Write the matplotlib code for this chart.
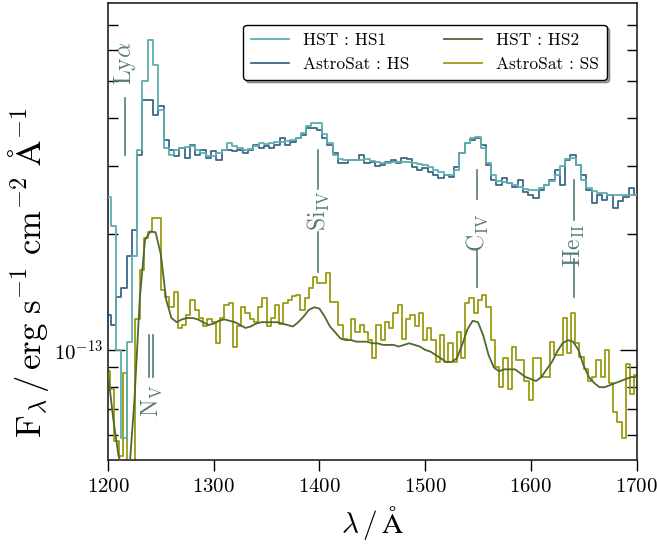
import numpy as np
import matplotlib
matplotlib.use("Agg")
import matplotlib.pyplot as plt
from matplotlib.ticker import LogLocator, NullFormatter, FixedLocator

plt.rcParams.update({
    "font.family": "serif",
    "font.serif": ["cmr10"],
    "mathtext.fontset": "cm",
    "axes.formatter.use_mathtext": True,
    "axes.unicode_minus": False,
})

# ---- spectra (flux in units of 1e-13 erg s^-1 cm^-2 A^-1) ----
wl_hst = np.arange(1200, 1701, 5)
hst_hs1 = [2.50, 2.10, 1.00, 0.59, 1.05, 1.75, 3.30, 5.00, 6.39, 5.50,
           4.20, 3.35, 3.21, 3.31, 3.35, 3.37, 3.39, 3.31, 3.25, 3.19,
           3.18, 3.25, 3.31, 3.45, 3.39, 3.35, 3.31, 3.33, 3.39, 3.45,
           3.43, 3.45, 3.47, 3.47, 3.49, 3.51, 3.56, 3.66, 3.82, 3.88,
           3.88, 3.64, 3.45, 3.21, 3.13, 3.12, 3.12, 3.12, 3.12, 3.13,
           3.10, 3.08, 3.06, 3.06, 3.08, 3.08, 3.08, 3.08, 3.06, 3.04,
           3.02, 2.99, 2.94, 2.90, 2.85, 2.85, 2.94, 3.24, 3.45, 3.56,
           3.58, 3.35, 3.06, 2.85, 2.75, 2.73, 2.71, 2.68, 2.65, 2.62,
           2.60, 2.60, 2.63, 2.68, 2.75, 2.84, 3.00, 3.13, 3.15, 3.02,
           2.77, 2.63, 2.59, 2.56, 2.55, 2.53, 2.53, 2.53, 2.53, 2.53,
           2.53]
hst_hs2 = [0.87, 0.66, 0.53, 0.48, 0.48, 0.74, 1.35, 1.93, 2.03, 2.02,
           1.77, 1.35, 1.21, 1.18, 1.20, 1.21, 1.21, 1.20, 1.18, 1.16,
           1.17, 1.19, 1.20, 1.19, 1.18, 1.16, 1.14, 1.15, 1.17, 1.18,
           1.18, 1.18, 1.18, 1.17, 1.16, 1.15, 1.18, 1.22, 1.27, 1.29,
           1.28, 1.22, 1.15, 1.11, 1.07, 1.06, 1.06, 1.05, 1.05, 1.05,
           1.04, 1.04, 1.03, 1.03, 1.03, 1.02, 1.03, 1.04, 1.03, 1.02,
           1.00, 0.99, 0.97, 0.95, 0.93, 0.93, 0.95, 1.03, 1.13, 1.19,
           1.18, 1.09, 0.97, 0.90, 0.88, 0.89, 0.89, 0.89, 0.87, 0.85,
           0.84, 0.83, 0.85, 0.89, 0.93, 0.99, 1.04, 1.06, 1.05, 1.00,
           0.91, 0.85, 0.82, 0.80, 0.80, 0.81, 0.82, 0.83, 0.84, 0.85,
           0.85]

wl_as_hs = np.arange(1200, 1701, 5)
astrosat_hs = [1.23, 1.16, 1.37, 1.45, 1.75, 2.05, 3.20, 4.46, 4.46, 4.08,
               4.30, 3.51, 3.31, 3.18, 3.35, 3.15, 3.41, 3.21, 3.31, 3.15,
               3.28, 3.12, 3.31, 3.31, 3.28, 3.30, 3.25, 3.31, 3.41, 3.35,
               3.38, 3.35, 3.41, 3.56, 3.41, 3.46, 3.56, 3.62, 3.77, 3.77,
               3.73, 3.56, 3.41, 3.25, 3.06, 3.06, 3.12, 3.12, 3.21, 3.06,
               3.08, 3.00, 3.02, 3.08, 3.12, 3.06, 3.15, 3.13, 2.99, 2.94,
               2.97, 2.90, 2.85, 2.80, 2.85, 2.82, 2.99, 3.24, 3.45, 3.51,
               3.56, 3.41, 3.02, 2.77, 2.68, 2.80, 2.71, 2.65, 2.77, 2.57,
               2.53, 2.48, 2.60, 2.68, 2.77, 2.94, 2.68, 3.12, 3.21, 3.02,
               2.85, 2.60, 2.41, 2.53, 2.45, 2.53, 2.34, 2.43, 2.50, 2.63,
               2.53]

wl_as_ss = np.arange(1200, 1701, 4)
astrosat_ss = [0.88, 0.79, 0.58, 0.53, 0.87, 0.48, 0.48, 1.20, 1.61, 1.95,
               2.02, 2.20, 2.20, 1.43, 1.37, 1.29, 1.41, 1.14, 1.16, 1.23,
               1.35, 1.27, 1.21, 1.15, 1.20, 1.18, 1.04, 1.21, 1.31, 1.32,
               1.02, 1.15, 1.29, 1.25, 1.20, 1.18, 1.29, 1.36, 1.15, 1.21,
               1.31, 1.17, 1.32, 1.35, 1.38, 1.39, 1.27, 1.36, 1.45, 1.55,
               1.49, 1.49, 1.58, 1.33, 1.33, 1.16, 1.07, 1.06, 1.20, 1.11,
               1.16, 1.11, 1.06, 0.95, 1.16, 1.06, 1.18, 1.14, 1.25, 1.31,
               1.07, 1.20, 1.23, 1.15, 1.25, 1.06, 1.14, 1.06, 0.93, 1.09,
               0.93, 1.04, 0.93, 1.11, 0.95, 1.32, 1.36, 1.25, 1.35, 1.39,
               1.29, 1.06, 0.90, 0.80, 0.95, 0.79, 1.02, 0.94, 0.94, 0.83,
               0.74, 0.95, 0.95, 0.85, 0.85, 1.05, 0.97, 0.97, 1.21, 0.98,
               1.25, 1.04, 0.96, 0.89, 0.83, 0.85, 0.94, 0.85, 1.00, 0.82,
               0.69, 0.65, 0.59, 0.92, 0.77, 0.86]

# ---- emission line markers ----
line_names = [r"$\mathrm{Ly}\alpha$", r"$\mathrm{Si}_{\mathrm{IV}}$",
              r"$\mathrm{C}_{\mathrm{IV}}$", r"$\mathrm{He}_{\mathrm{II}}$"]
line_wl = [1216, 1399, 1549, 1641]
label_flux = [5.56, 2.30, 2.01, 1.86]
upper_seg = [(3.21, 4.51), (2.62, 3.31), (2.46, 2.94), (2.18, 2.77)]
lower_seg = [None, (1.59, 2.02), (1.46, 1.82), (1.37, 1.72)]
nv_wl = [1239, 1243]
nv_seg = (0.85, 1.09)
nv_label = (1241.5, 0.74)

SCALE = 1e-13
c_hs1 = "#5eaeae"
c_hs = "#3b6788"
c_hs2 = "#4e6a2c"
c_ss = "#9c9a12"
c_ann = "#587a7a"

fig = plt.figure(figsize=(6.57, 5.49), dpi=100)
ax = fig.add_axes([0.1644, 0.163, 0.8044, 0.8315])

h1, = ax.step(wl_hst, np.array(hst_hs1) * SCALE, where="mid", color=c_hs1,
              lw=1.3, label="HST : HS1", zorder=3)
h2, = ax.step(wl_as_hs, np.array(astrosat_hs) * SCALE, where="mid", color=c_hs,
              lw=1.3, label="AstroSat : HS", zorder=2)
h4, = ax.step(wl_as_ss, np.array(astrosat_ss) * SCALE, where="mid", color=c_ss,
              lw=1.3, label="AstroSat : SS", zorder=2)
h3, = ax.plot(wl_hst, np.array(hst_hs2) * SCALE, color=c_hs2,
              lw=1.3, label="HST : HS2", zorder=3)

for name, lw_, lf, up, lo in zip(line_names, line_wl, label_flux, upper_seg, lower_seg):
    ax.text(lw_, lf * SCALE, name, rotation=90, ha="center", va="center",
            color=c_ann, fontsize=17)
    ax.plot([lw_, lw_], [up[0] * SCALE, up[1] * SCALE], color=c_ann, lw=1.2)
    if lo is not None:
        ax.plot([lw_, lw_], [lo[0] * SCALE, lo[1] * SCALE], color=c_ann, lw=1.2)
for w in nv_wl:
    ax.plot([w, w], [nv_seg[0] * SCALE, nv_seg[1] * SCALE], color=c_ann, lw=1.2)
ax.text(nv_label[0], nv_label[1] * SCALE, r"$\mathrm{N}_{\mathrm{V}}$", rotation=90,
        ha="center", va="center", color=c_ann, fontsize=17)

ax.set_yscale("log")
ax.set_xlim(1200, 1700)
ax.set_ylim(5.19e-14, 7.96e-13)
ax.xaxis.set_major_locator(FixedLocator([1200, 1300, 1400, 1500, 1600, 1700]))
ax.yaxis.set_minor_formatter(NullFormatter())
ax.yaxis.set_minor_locator(LogLocator(base=10, subs=np.arange(2, 10)))

ax.tick_params(axis="x", direction="out", length=8, width=1.0, labelsize=15,
               top=False, pad=5)
ax.tick_params(axis="y", which="major", direction="in", length=12, width=1.0,
               labelsize=15, right=True)
ax.tick_params(axis="y", which="minor", direction="in", length=7, width=1.0,
               right=True)
for s in ax.spines.values():
    s.set_linewidth(1.2)
    s.set_color("#222222")

ax.set_xlabel(r"$\lambda\,/\,\mathrm{\AA}$", fontsize=21)
ax.xaxis.set_label_coords(0.5, -0.098)
ax.set_ylabel(r"$\mathrm{F}_\lambda\,/\,\mathrm{erg\ s^{-1}\ cm^{-2}\ \AA^{-1}}$",
              fontsize=25)
ax.yaxis.set_label_coords(-0.108, 0.41)

leg = ax.legend(handles=[h1, h2, h3, h4], ncol=2, loc="upper right",
                bbox_to_anchor=(0.944, 0.952), borderaxespad=0, fontsize=12.5,
                frameon=True, fancybox=True, shadow=True, handlelength=2.2,
                handletextpad=0.8, columnspacing=2.0, labelspacing=0.5,
                borderpad=0.45)
leg.get_frame().set_edgecolor("black")
leg.get_frame().set_linewidth(1.0)
leg.get_frame().set_alpha(1.0)

fig.savefig("out.png", dpi=100)
